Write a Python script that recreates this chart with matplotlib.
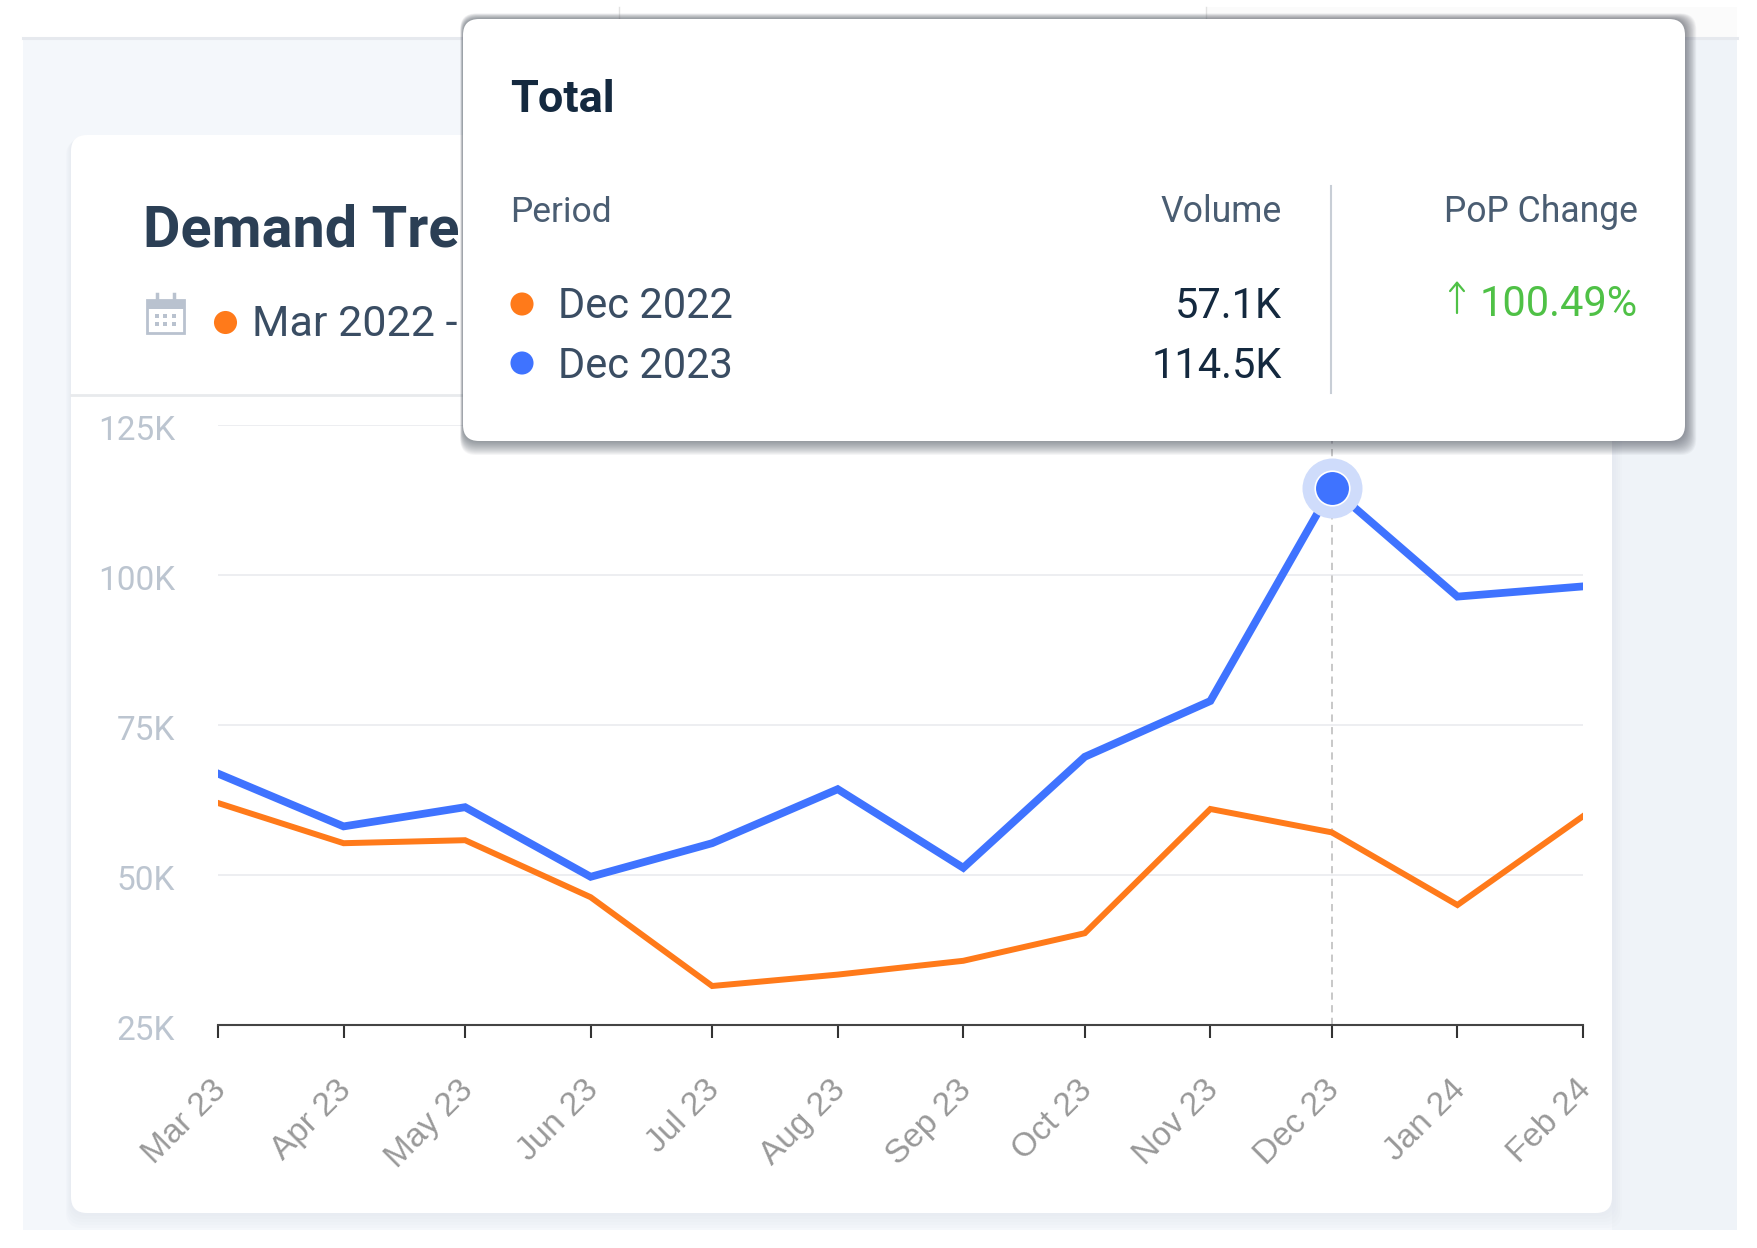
import pandas as pd
import matplotlib
matplotlib.use("Agg")
import matplotlib.pyplot as plt
from matplotlib.patches import FancyBboxPatch, Rectangle
from matplotlib.transforms import ScaledTranslation

plt.rcParams['font.family'] = ['Roboto', 'DejaVu Sans']

months = ["2023-03-01", "2023-04-01", "2023-05-01", "2023-06-01", "2023-07-01", "2023-08-01",
          "2023-09-01", "2023-10-01", "2023-11-01", "2023-12-01", "2024-01-01", "2024-02-01"]
month_labels = ["Mar 23", "Apr 23", "May 23", "Jun 23", "Jul 23", "Aug 23",
                "Sep 23", "Oct 23", "Nov 23", "Dec 23", "Jan 24", "Feb 24"]
prev_year = [62.0, 55.3, 55.8, 46.3, 31.5, 33.4, 35.7, 40.3, 61.0, 57.1, 45.0, 59.8]
this_year = [66.9, 58.1, 61.3, 49.7, 55.3, 64.3, 51.2, 69.7, 79.0, 114.5, 96.4, 98.1]
y_ticks = [25, 50, 75, 100, 125]
y_labels = ["25K", "50K", "75K", "100K", "125K"]
highlight = 9

ORANGE = "#ff7a1a"
BLUE = "#3f73ff"
W, H = 1758, 1248

dates = pd.to_datetime(months)

fig = plt.figure(figsize=(W / 100, H / 100), dpi=100, facecolor="white")


def layer(z):
    a = fig.add_axes([0, 0, 1, 1], zorder=z)
    a.set_xlim(0, W)
    a.set_ylim(H, 0)
    a.axis("off")
    a.patch.set_alpha(0)
    return a


def rounded(a, x0, y0, x1, y1, r, **kw):
    a.add_patch(FancyBboxPatch((x0 + r, y0 + r), x1 - x0 - 2 * r, y1 - y0 - 2 * r,
                               boxstyle="round,pad=%d,rounding_size=%d" % (r, r), **kw))


# page background and card
bg = layer(0)
bg.add_patch(Rectangle((23, 38), 1714, 1192, fc="#f4f7fb", ec="none"))
bg.add_patch(Rectangle((1612, 38), 125, 1192, fc="#eff3f8", ec="none"))
bg.plot([23, 1737], [38, 38], color="#e6e9ee", lw=2.2)
bg.add_patch(Rectangle((1206, 7), 531, 30, fc="#fbfbfb", ec="none"))
bg.plot([619, 619], [7, 38], color="#e2e2e2", lw=1)
bg.plot([1206, 1206], [7, 38], color="#e2e2e2", lw=1)
for i in range(6):
    rounded(bg, 71 - i, 135 + i, 1612 + i * 2, 1213 + i * 3, 16, fc="#dfe4ec", ec="none", alpha=0.12)
rounded(bg, 71, 135, 1612, 1213, 16, fc="white", ec="none")
bg.plot([71, 1612], [395, 395], color="#e8eaed", lw=2)

bg.text(143, 231, "Demand Tre", fontsize=41.5, fontweight="bold", color="#2b3f55", va="center")
bg.text(252, 325, "Mar 2022 -", fontsize=31, color="#3a4d63", va="center")
bg.scatter([225], [322], s=276, color=ORANGE, linewidths=0)

# calendar icon
bg.add_patch(Rectangle((147, 300), 37, 33, fc="none", ec="#b9c2cf", lw=2))
bg.add_patch(Rectangle((147, 300), 37, 9, fc="#b9c2cf", ec="none"))
bg.plot([157, 157], [294, 300], color="#b9c2cf", lw=2.5)
bg.plot([174, 174], [294, 300], color="#b9c2cf", lw=2.5)
bg.scatter([157, 165, 174, 157, 165, 174], [316, 316, 316, 324, 324, 324], s=6, marker="s",
           color="#b9c2cf", linewidths=0)

# chart
ax = fig.add_axes([218 / W, 1 - 1025 / H, (1583 - 218) / W, 600 / H], zorder=1)
ax.patch.set_alpha(0)
ax.set_xlim(dates[0], dates[-1])
ax.set_ylim(25, 125)
ax.yaxis.grid(True, color="#e8eaed", lw=1.1)
ax.set_axisbelow(True)
for s in ["top", "left", "right"]:
    ax.spines[s].set_visible(False)
ax.spines["bottom"].set_color("#444444")
ax.spines["bottom"].set_linewidth(1.5)

ax.axvline(dates[highlight], color="#c4c4c4", lw=1.3, ls=(0, (4, 3)))
ax.plot(dates, prev_year, color=ORANGE, lw=4.3, solid_joinstyle="miter")
ax.plot(dates, this_year, color=BLUE, lw=5.6, solid_joinstyle="miter")
ax.scatter([dates[highlight]], [this_year[highlight]], s=1866, color="#cfdcfb", linewidths=0, zorder=4, clip_on=False)
ax.scatter([dates[highlight]], [this_year[highlight]], s=620, color=BLUE, edgecolors="white", linewidths=1.2, zorder=5, clip_on=False)

ax.set_xticks(dates)
ax.set_xticklabels(month_labels, rotation=45, ha="right", rotation_mode="anchor",
                   fontsize=24, color="#999999", family=["Liberation Sans"])
ax.tick_params(axis="x", length=9.4, width=1.5, color="#333333", pad=26)
ax.set_yticks(y_ticks)
ax.set_yticklabels(y_labels, fontsize=24, color="#bcc5d0")
ax.tick_params(axis="y", length=0, pad=31)
for lab in ax.get_xticklabels():
    lab.set_transform(lab.get_transform() + ScaledTranslation(-8 / 100, 0, fig.dpi_scale_trans))
for lab in ax.get_yticklabels():
    lab.set_transform(lab.get_transform() + ScaledTranslation(0, -3 / 100, fig.dpi_scale_trans))

# tooltip
tip = layer(2)
for i in range(14, 0, -1):
    rounded(tip, 463 - i * 0.2, 19 - i * 0.4, 1685 + i * 0.8, 441 + i, 16, fc="#444a55", ec="none", alpha=0.05)
rounded(tip, 463, 19, 1685, 441, 16, fc="white", ec="none")

tip.text(510, 100, "Total", fontsize=32.5, fontweight="bold", color="#14293f", va="center")
tip.text(510, 212, "Period", fontsize=25.5, color="#4a5d72", va="center")
tip.text(1282, 212, "Volume", fontsize=25.7, color="#4a5d72", va="center", ha="right")
tip.text(1638, 212, "PoP Change", fontsize=25.6, color="#4a5d72", va="center", ha="right")
tip.plot([1331, 1331], [186, 393], color="#c8ced6", lw=1.5)

tip.scatter([522, 522], [304, 363], s=276, color=[ORANGE, BLUE], linewidths=0)
tip.text(558, 306, "Dec 2022", fontsize=30, color="#3a4d63", va="center")
tip.text(558, 366, "Dec 2023", fontsize=30, color="#3a4d63", va="center")
tip.text(1282, 306, "57.1K", fontsize=30, color="#14293f", va="center", ha="right")
tip.text(1282, 366, "114.5K", fontsize=30, color="#14293f", va="center", ha="right")
tip.text(1638, 304, "100.49%", fontsize=30, color="#4fc146", va="center", ha="right")
tip.annotate("", xy=(1457, 281), xytext=(1457, 313),
             arrowprops=dict(arrowstyle="->,head_length=0.6,head_width=0.5", color="#4fc146", lw=1.6,
                             shrinkA=0, shrinkB=0))

fig.savefig("out.png", dpi=100)
